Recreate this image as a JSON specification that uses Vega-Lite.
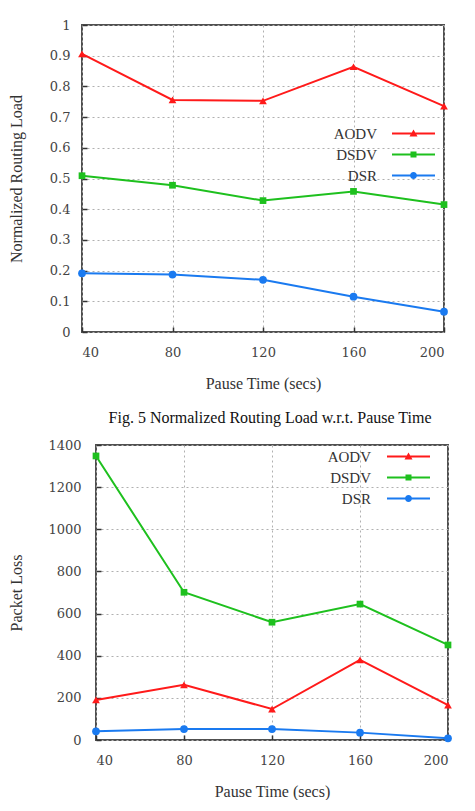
{
  "$schema": "https://vega.github.io/schema/vega-lite/v6.json",
  "background": "white",
  "padding": {"left": 6, "top": 18, "right": 0, "bottom": 0},
  "datasets": {
    "nrl": [
      {"pause": 40, "protocol": "AODV", "value": 0.906},
      {"pause": 80, "protocol": "AODV", "value": 0.756},
      {"pause": 120, "protocol": "AODV", "value": 0.753},
      {"pause": 160, "protocol": "AODV", "value": 0.864},
      {"pause": 200, "protocol": "AODV", "value": 0.736},
      {"pause": 40, "protocol": "DSDV", "value": 0.509},
      {"pause": 80, "protocol": "DSDV", "value": 0.478},
      {"pause": 120, "protocol": "DSDV", "value": 0.428},
      {"pause": 160, "protocol": "DSDV", "value": 0.458},
      {"pause": 200, "protocol": "DSDV", "value": 0.415},
      {"pause": 40, "protocol": "DSR", "value": 0.191},
      {"pause": 80, "protocol": "DSR", "value": 0.187},
      {"pause": 120, "protocol": "DSR", "value": 0.170},
      {"pause": 160, "protocol": "DSR", "value": 0.115},
      {"pause": 200, "protocol": "DSR", "value": 0.066}
    ],
    "loss": [
      {"pause": 40, "protocol": "AODV", "value": 190},
      {"pause": 80, "protocol": "AODV", "value": 262},
      {"pause": 120, "protocol": "AODV", "value": 147},
      {"pause": 160, "protocol": "AODV", "value": 380},
      {"pause": 200, "protocol": "AODV", "value": 166},
      {"pause": 40, "protocol": "DSDV", "value": 1348},
      {"pause": 80, "protocol": "DSDV", "value": 701},
      {"pause": 120, "protocol": "DSDV", "value": 559},
      {"pause": 160, "protocol": "DSDV", "value": 645},
      {"pause": 200, "protocol": "DSDV", "value": 451},
      {"pause": 40, "protocol": "DSR", "value": 41},
      {"pause": 80, "protocol": "DSR", "value": 52},
      {"pause": 120, "protocol": "DSR", "value": 52},
      {"pause": 160, "protocol": "DSR", "value": 35},
      {"pause": 200, "protocol": "DSR", "value": 8}
    ],
    "empty": []
  },
  "config": {
    "view": {"stroke": "#505050", "strokeWidth": 2},
    "axis": {
      "labelFont": "DejaVu Serif", "labelFontSize": 13, "labelColor": "#444",
      "titleFont": "Liberation Serif", "titleFontSize": 16, "titleFontWeight": "normal", "titleColor": "#333",
      "grid": true, "gridColor": "#b0b0b0", "gridDash": [2, 3], "gridWidth": 1,
      "domain": false, "tickColor": "#333", "tickSize": -5, "tickWidth": 1.5
    },
    "legend": {
      "orient": "none", "title": null, "padding": 0, "symbolSize": 100, "symbolStrokeWidth": 0,
      "labelAlign": "right", "labelFont": "Liberation Serif", "labelFontSize": 15, "labelColor": "#333", "rowPadding": 5
    }
  },
  "concat": [
    {"hconcat": [
      {"width": 1, "height": 1, "data": {"name": "empty"}, "mark": "point", "view": {"stroke": null}},
      {
        "width": 362, "height": 307,
        "data": {"name": "nrl"},
        "title": {"text": "Fig. 5 Normalized Routing Load w.r.t. Pause Time", "orient": "bottom", "anchor": "middle", "font": "Liberation Serif", "fontSize": 16, "fontWeight": "normal", "color": "#111", "offset": 19, "dx": 7},
        "encoding": {
          "x": {"field": "pause", "type": "quantitative", "scale": {"domain": [40, 200], "nice": false, "zero": false},
                "axis": {"values": [40, 80, 120, 160, 200], "title": "Pause Time (secs)", "labelPadding": 19, "titlePadding": 16}},
          "y": {"field": "value", "type": "quantitative", "scale": {"domain": [0, 1], "nice": false},
                "axis": {"values": [0, 0.1, 0.2, 0.3, 0.4, 0.5, 0.6, 0.7, 0.8, 0.9, 1], "format": "~g", "title": "Normalized Routing Load", "labelPadding": 17, "titlePadding": 25}},
          "color": {"field": "protocol", "type": "nominal",
                    "scale": {"domain": ["AODV", "DSDV", "DSR"], "range": ["#ff1a1a", "#1ec01e", "#1a7af0"]},
                    "legend": {"legendX": 400, "legendY": 101, "labelOffset": -44,
                               "encode": {"symbols": {"update": {
                                 "shape": {"signal": "datum.value === 'AODV' ? 'M-4.3,-0.2H4.3V0.2H-4.3Z M-0.8,0.6L0,-0.8L0.8,0.6Z' : datum.value === 'DSDV' ? 'M-4.3,-0.2H4.3V0.2H-4.3Z M-0.6,-0.6H0.6V0.6H-0.6Z' : 'M-4.3,-0.2H4.3V0.2H-4.3Z M0.7,0A0.7,0.7,0,1,1,-0.7,0A0.7,0.7,0,1,1,0.7,0Z'"},
                                 "fill": {"signal": "datum.value === 'AODV' ? '#ff1a1a' : datum.value === 'DSDV' ? '#1ec01e' : '#1a7af0'"},
                                 "stroke": {"value": "transparent"},
                                 "opacity": {"value": 1}, "fillOpacity": {"value": 1}}}}}}
        },
        "layer": [
          {"mark": {"type": "line", "strokeWidth": 2}},
          {"transform": [{"filter": "datum.protocol === 'AODV'"}], "mark": {"type": "point", "filled": true, "opacity": 1, "size": 60, "shape": "triangle-up"}},
          {"transform": [{"filter": "datum.protocol === 'DSDV'"}], "mark": {"type": "point", "filled": true, "opacity": 1, "size": 45, "shape": "square"}},
          {"transform": [{"filter": "datum.protocol === 'DSR'"}], "mark": {"type": "point", "filled": true, "opacity": 1, "size": 60, "shape": "circle"}}
        ]
      }
    ], "spacing": 0},
    {"hconcat": [
      {"width": 1, "height": 1, "data": {"name": "empty"}, "mark": "point", "view": {"stroke": null}},
      {
        "width": 352, "height": 295,
        "data": {"name": "loss"},
        "encoding": {
          "x": {"field": "pause", "type": "quantitative", "scale": {"domain": [40, 200], "nice": false, "zero": false},
                "axis": {"values": [40, 80, 120, 160, 200], "title": "Pause Time (secs)", "labelPadding": 19, "titlePadding": 16}},
          "y": {"field": "value", "type": "quantitative", "scale": {"domain": [0, 1400], "nice": false},
                "axis": {"values": [0, 200, 400, 600, 800, 1000, 1200, 1400], "format": "d", "title": "Packet Loss", "labelPadding": 20, "titlePadding": 23}},
          "color": {"field": "protocol", "type": "nominal",
                    "scale": {"domain": ["AODV", "DSDV", "DSR"], "range": ["#ff1a1a", "#1ec01e", "#1a7af0"]},
                    "legend": {"legendX": 395, "legendY": 4, "labelOffset": -45,
                               "encode": {"symbols": {"update": {
                                 "shape": {"signal": "datum.value === 'AODV' ? 'M-4.3,-0.2H4.3V0.2H-4.3Z M-0.8,0.6L0,-0.8L0.8,0.6Z' : datum.value === 'DSDV' ? 'M-4.3,-0.2H4.3V0.2H-4.3Z M-0.6,-0.6H0.6V0.6H-0.6Z' : 'M-4.3,-0.2H4.3V0.2H-4.3Z M0.7,0A0.7,0.7,0,1,1,-0.7,0A0.7,0.7,0,1,1,0.7,0Z'"},
                                 "fill": {"signal": "datum.value === 'AODV' ? '#ff1a1a' : datum.value === 'DSDV' ? '#1ec01e' : '#1a7af0'"},
                                 "stroke": {"value": "transparent"},
                                 "opacity": {"value": 1}, "fillOpacity": {"value": 1}}}}}}
        },
        "layer": [
          {"mark": {"type": "line", "strokeWidth": 2}},
          {"transform": [{"filter": "datum.protocol === 'AODV'"}], "mark": {"type": "point", "filled": true, "opacity": 1, "size": 60, "shape": "triangle-up"}},
          {"transform": [{"filter": "datum.protocol === 'DSDV'"}], "mark": {"type": "point", "filled": true, "opacity": 1, "size": 45, "shape": "square"}},
          {"transform": [{"filter": "datum.protocol === 'DSR'"}], "mark": {"type": "point", "filled": true, "opacity": 1, "size": 60, "shape": "circle"}}
        ]
      }
    ], "spacing": 0}
  ],
  "columns": 1,
  "spacing": 11,
  "resolve": {"scale": {"x": "independent", "y": "independent", "color": "independent"}, "legend": {"color": "independent"}}
}
